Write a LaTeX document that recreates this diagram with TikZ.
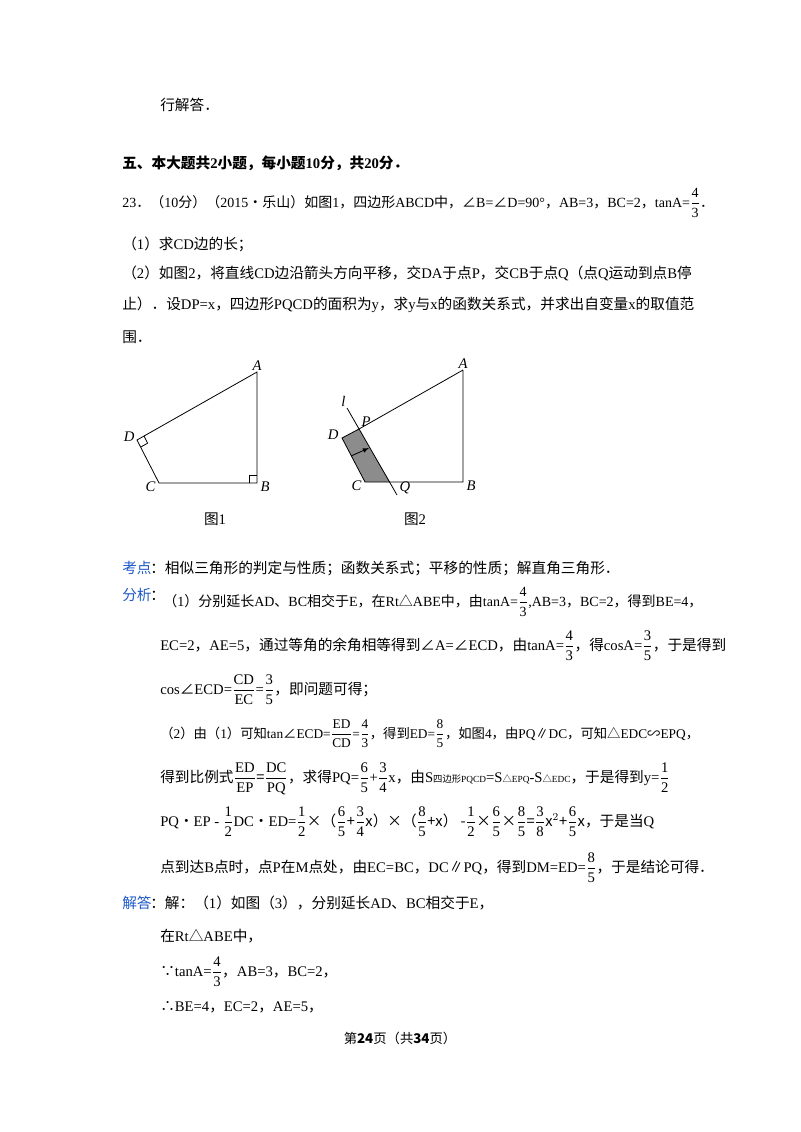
\documentclass[tikz,border=0pt]{standalone}
\usetikzlibrary{calc}
\usepackage{amsmath}
\usepackage{fontspec}
\setmainfont{Liberation Serif}
\newfontfamily\cjk{Noto Sans CJK SC}
\XeTeXinterchartokenstate=1
\newXeTeXintercharclass\zhclass
\count255="4E00
\loop \XeTeXcharclass\count255=\zhclass \ifnum\count255<"9FFF \advance\count255 by 1 \repeat
\count255="3000
\loop \XeTeXcharclass\count255=\zhclass \ifnum\count255<"303F \advance\count255 by 1 \repeat
\count255="FF00
\loop \XeTeXcharclass\count255=\zhclass \ifnum\count255<"FF5F \advance\count255 by 1 \repeat
\XeTeXcharclass"2220=\zhclass \XeTeXcharclass"25B3=\zhclass \XeTeXcharclass"2235=\zhclass
\XeTeXcharclass"2234=\zhclass \XeTeXcharclass"2225=\zhclass \XeTeXcharclass"223D=\zhclass
\XeTeXcharclass"D7=\zhclass \XeTeXcharclass"2022=\zhclass
\XeTeXinterchartoks 0 \zhclass = {\cjk}
\XeTeXinterchartoks 4095 \zhclass = {\cjk}
\XeTeXinterchartoks \zhclass 0 = {\rmfamily}
\definecolor{kblue}{RGB}{30,90,200}
\newcommand\fr[2]{$\dfrac{\mathrm{#1}}{\mathrm{#2}}$}
\begin{document}
\begin{tikzpicture}[x=0.75pt,y=-0.75pt,
  txt/.style={anchor=base west,inner sep=0pt,font=\fontsize{11}{13}\selectfont},
  lab/.style={inner sep=1pt,font=\fontsize{11}{13}\selectfont\itshape},
  fig/.style={line width=0.6pt}]
\useasboundingbox (0,0) rectangle (800,1132);
\fill[white] (0,0) rectangle (800,1132);
\node[txt] (t1) at (160,110) {行解答．};
\node[txt,font=\fontsize{11}{13}\selectfont\bfseries] (t2) at (122,168) {五、本大题共2小题，每小题10分，共20分．};
\node[txt,font=\fontsize{10.5}{13}\selectfont] (t3) at (122,207) {23．（10分）（2015•乐山）如图1，四边形ABCD中，∠B=∠D=90°，AB=3，BC=2，tanA=\fr43．};
\node[txt] (t4) at (122,249) {（1）求CD边的长；};
\node[txt] (t5) at (122,278) {（2）如图2，将直线CD边沿箭头方向平移，交DA于点P，交CB于点Q（点Q运动到点B停};
\node[txt] (t6) at (122,309) {止）．设DP=x，四边形PQCD的面积为y，求y与x的函数关系式，并求出自变量x的取值范};
\node[txt] (t7) at (122,342) {围．};
% figure 1
\coordinate (A1) at (257,372); \coordinate (B1) at (257,483);
\coordinate (C1) at (159,483); \coordinate (D1) at (137,440);
\draw[fig] (A1) -- (B1) -- (C1) -- (D1) -- cycle;
\draw[fig] (249,483) -- (249,475) -- (257,475);
\draw[fig] (144,436.1) -- (147.6,443.2) -- (140.6,447.1);
\node[lab,anchor=south] (la1) at (A1) {A};
\node[lab,anchor=west] (lb1) at ($(B1)+(2,4)$) {B};
\node[lab,anchor=east] (lc1) at ($(C1)+(-2,4)$) {C};
\node[lab,anchor=east] (ld1) at ($(D1)+(-1,-3)$) {D};
\node[txt,anchor=base] (f1) at (215,524) {图1};
% figure 2
\coordinate (A2) at (463,370); \coordinate (B2) at (463,482);
\coordinate (C2) at (365,482); \coordinate (D2) at (342,438);
\coordinate (P2) at (359,429); \coordinate (Q2) at (390,482);
\coordinate (L1) at (347,408); \coordinate (L2) at (397,495);
\fill[gray!90] (D2) -- (P2) -- (Q2) -- (C2) -- cycle;
\draw[fig] (A2) -- (B2) -- (C2) -- (D2) -- (P2) -- (A2);
\draw[fig] (L1) -- (L2);
\draw[fig,-latex] (351,456) -- (369,448);
\node[lab,anchor=south east] (ll) at (L1) {l};
\node[lab,anchor=south west] (lp) at ($(P2)+(1,-1)$) {P};
\node[lab,anchor=south] (la2) at (A2) {A};
\node[lab,anchor=west] (lb2) at ($(B2)+(2,4)$) {B};
\node[lab,anchor=east] (lc2) at ($(C2)+(-2,4)$) {C};
\node[lab,anchor=east] (ld2) at ($(D2)+(-2,-3)$) {D};
\node[lab,anchor=north west] (lq) at ($(Q2)+(8,-2)$) {Q};
\node[txt,anchor=base] (f2) at (415,524) {图2};
% analysis
\node[txt,text=kblue] (k1) at (122,573) {考点};
\node[txt] (k2) at (150,573) {：相似三角形的判定与性质；函数关系式；平移的性质；解直角三角形．};
\node[txt,text=kblue] (k3) at (122,600) {分析};
\node[txt] (k3b) at (150,600) {：};
\node[txt,font=\fontsize{10.5}{13}\selectfont] (a1) at (163,606) {（1）分别延长AD、BC相交于E，在Rt△ABE中，由tanA=\fr43,AB=3，BC=2，得到BE=4，};
\node[txt] (a2) at (160,650) {EC=2，AE=5，通过等角的余角相等得到∠A=∠ECD，由tanA=\fr43，得cosA=\fr35，于是得到};
\node[txt] (a3) at (160,694) {cos∠ECD=\fr{CD}{EC}=\fr35，即问题可得；};
\node[txt,font=\fontsize{10}{13}\selectfont] (a4) at (160,738) {（2）由（1）可知tan∠ECD=\fr{ED}{CD}=\fr43，得到ED=\fr85，如图4，由PQ∥DC，可知△EDC∽EPQ，};
\node[txt] (a5) at (160,782) {得到比例式\fr{ED}{EP}=\fr{DC}{PQ}，求得PQ=\fr65+\fr34x，由S{\fontsize{7}{8}\selectfont 四边形PQCD}=S{\fontsize{7}{8}\selectfont △EPQ}-S{\fontsize{7}{8}\selectfont △EDC}，于是得到y=\fr12};
\node[txt] (a6) at (160,826) {PQ•EP - \fr12DC•ED=\fr12×（\fr65+\fr34x）×（\fr85+x） -\fr12×\fr65×\fr85=\fr38x$^2$+\fr65x，于是当Q};
\node[txt] (a7) at (160,872) {点到达B点时，点P在M点处，由EC=BC，DC∥PQ，得到DM=ED=\fr85，于是结论可得．};
\node[txt,text=kblue] (j1) at (122,908) {解答};
\node[txt] (j1b) at (150,908) {：解：（1）如图（3），分别延长AD、BC相交于E，};
\node[txt] (j2) at (160,941) {在Rt△ABE中，};
\node[txt] (j3) at (160,976) {∵tanA=\fr43，AB=3，BC=2，};
\node[txt] (j4) at (160,1011) {∴BE=4，EC=2，AE=5，};
\node[txt,anchor=base,font=\fontsize{10}{12}\selectfont] (ft) at (400,1043) {第\textbf{24}页（共\textbf{34}页）};
\end{tikzpicture}
\end{document}
